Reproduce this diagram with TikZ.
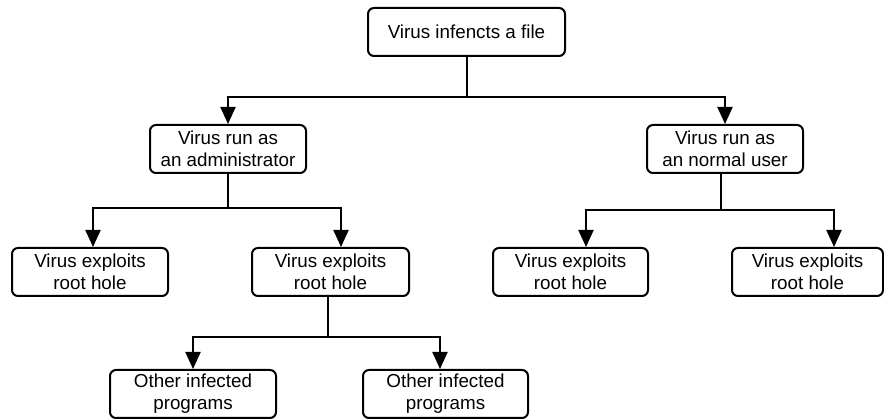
\documentclass[tikz,border=0pt]{standalone}
\usepackage{fontspec}
\setmainfont{Liberation Sans}
\usetikzlibrary{arrows.meta}
\begin{document}
\begin{tikzpicture}[x=1pt,y=-1pt,
  box/.style={draw=black, line width=2pt, rounded corners=6pt, align=center,
    inner sep=0pt, minimum height=48pt,
    font=\fontsize{18.8}{22}\selectfont},
  link/.style={line width=2pt},
  arr/.style={line width=2pt, -{Triangle[length=17pt,width=15pt]}}]
\useasboundingbox (0,0) rectangle (884,419);

% boxes
\node[box, minimum width=197pt] (top)   at (466.5,32) {Virus infencts a file};
\node[box, minimum width=156pt] (admin) at (228,149)  {Virus run as\\an administrator};
\node[box, minimum width=156pt] (user)  at (725,149)  {Virus run as\\an normal user};
\node[box, minimum width=156pt] (la)    at (90,272)   {Virus exploits\\root hole};
\node[box, minimum width=157pt] (lb)    at (330.5,272){Virus exploits\\root hole};
\node[box, minimum width=155pt] (ra)    at (570.5,272){Virus exploits\\root hole};
\node[box, minimum width=151pt] (rb)    at (807.5,272){Virus exploits\\root hole};
\node[box, minimum width=166pt] (ba)    at (193,394)  {Other infected\\programs};
\node[box, minimum width=165pt] (bb)    at (445.5,394){Other infected\\programs};

% junction points
\coordinate (j0) at (466.5,97);
\coordinate (j1) at (228,208);
\coordinate (j2) at (721,210);
\coordinate (j3) at (328,337);

% connectors
\draw[link] (top.south) -- (j0);
\draw[arr] (j0) -| (admin.north);
\draw[arr] (j0) -| (user.north);

\draw[link] (admin.south) -- (j1);
\draw[arr] (j1) -| ([xshift=3pt]la.north);
\draw[arr] (j1) -| ([xshift=10.5pt]lb.north);

\draw[link] ([xshift=-4pt]user.south) -- (j2);
\draw[arr] (j2) -| ([xshift=15.5pt]ra.north);
\draw[arr] (j2) -| ([xshift=26.5pt]rb.north);

\draw[link] ([xshift=-2.5pt]lb.south) -- (j3);
\draw[arr] (j3) -| (ba.north);
\draw[arr] (j3) -| ([xshift=-5.5pt]bb.north);
\end{tikzpicture}
\end{document}
